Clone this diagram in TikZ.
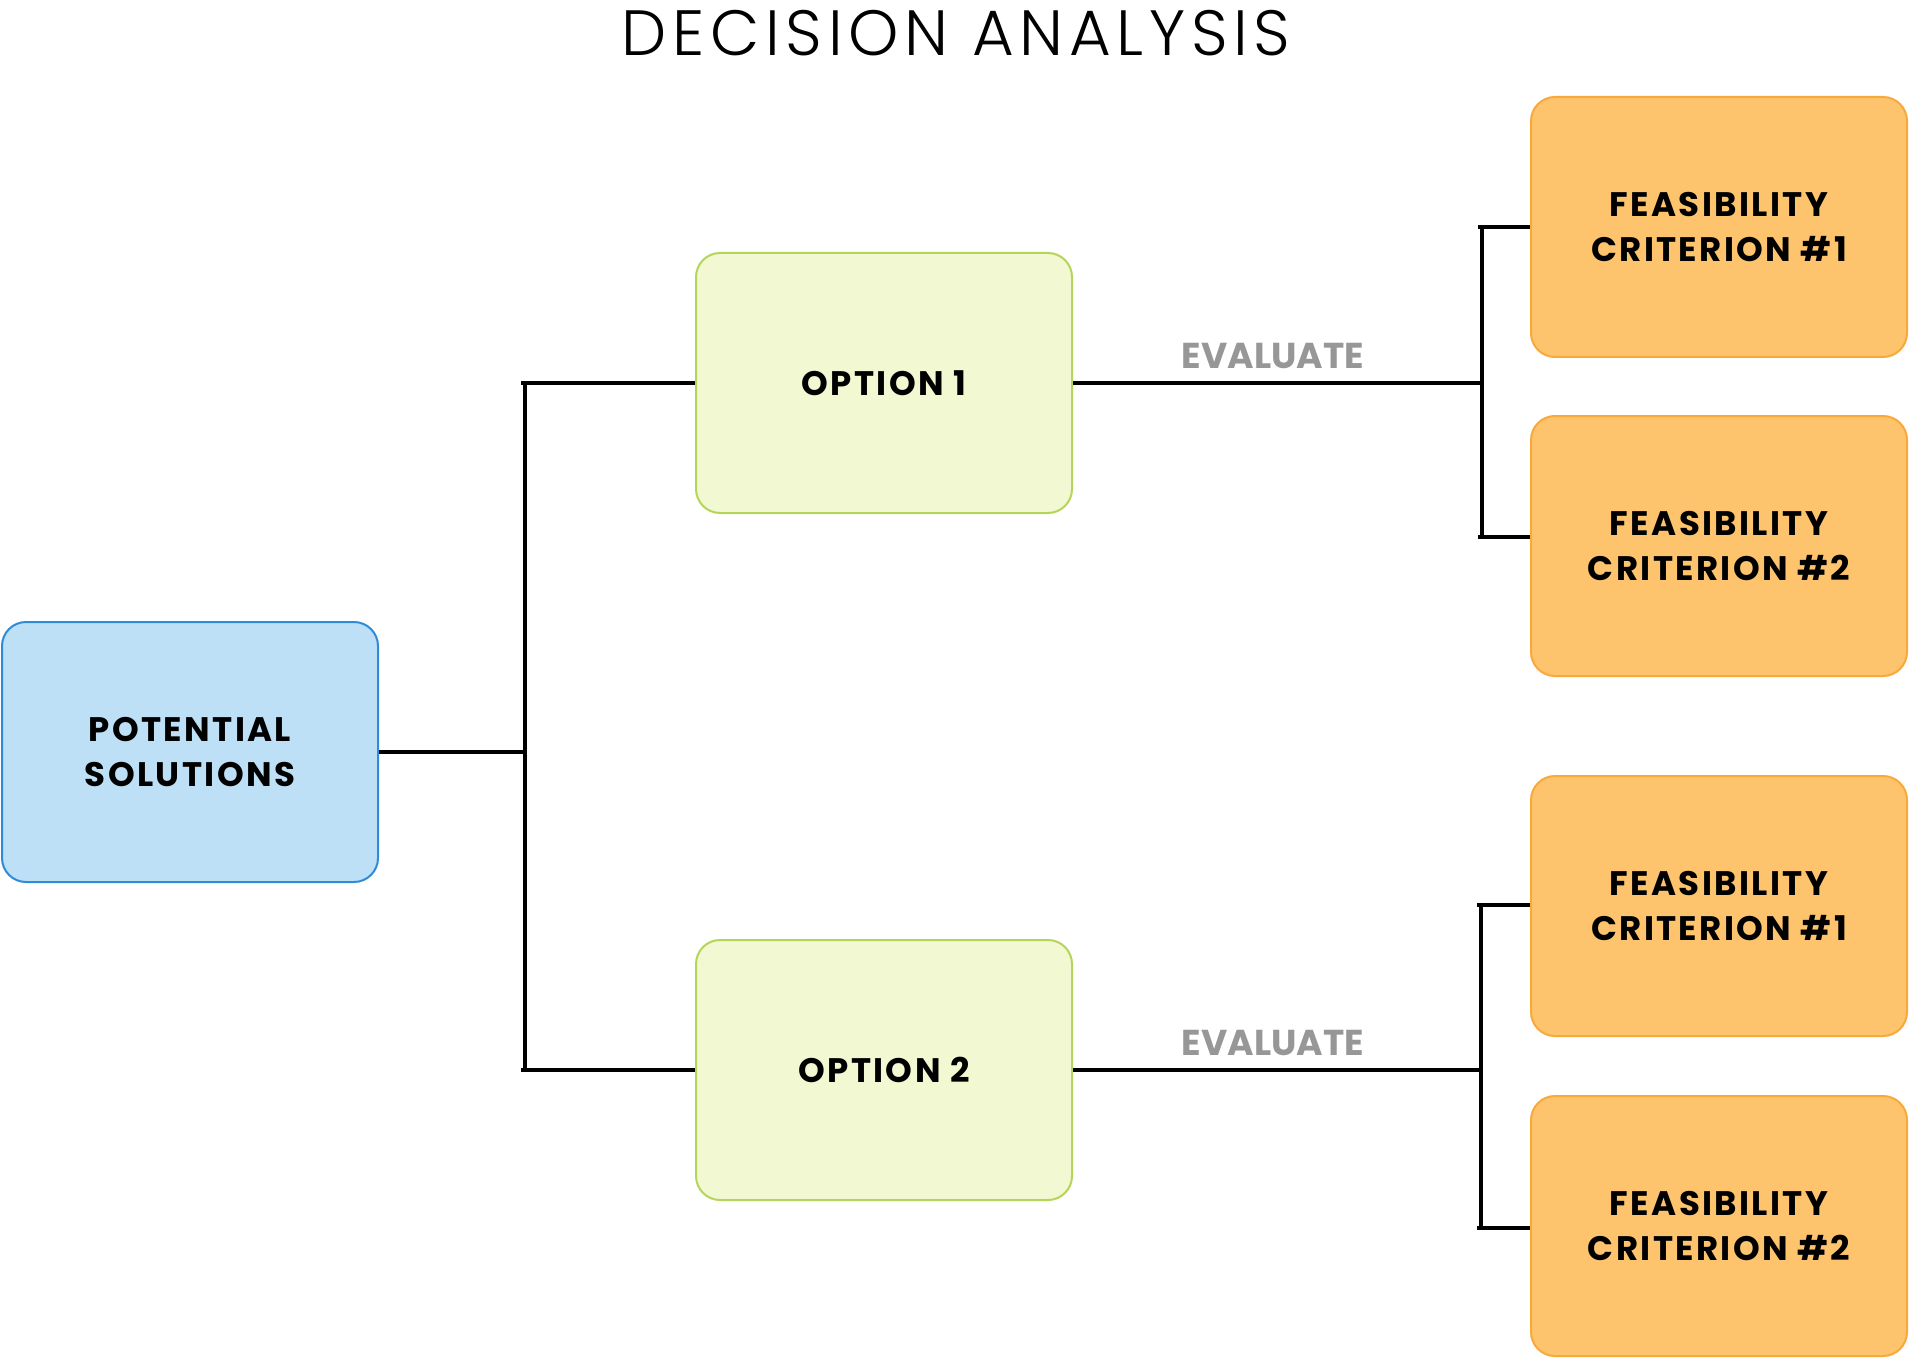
\documentclass[tikz,border=0pt]{standalone}
\usepackage{fontspec}
\setmainfont{Poppins}
\newfontfamily\titlefont{Poppins Light}[LetterSpace=9]
\newfontfamily\boxfont{Poppins}[LetterSpace=7]
\usepackage{tikz}
\usetikzlibrary{positioning}

\definecolor{solfill}{HTML}{BDE0F7}
\definecolor{soldraw}{HTML}{2E8BD8}
\definecolor{optfill}{HTML}{F1F8D2}
\definecolor{optdraw}{HTML}{B5D55A}
\definecolor{critfill}{HTML}{FDC46D}
\definecolor{critdraw}{HTML}{F9A83A}
\definecolor{evalgray}{HTML}{979797}

\begin{document}
\begin{tikzpicture}[x=0.5pt, y=-0.5pt,
    box/.style={draw, rounded corners=12pt, line width=1pt,
                minimum width=188pt, minimum height=130pt, align=center,
                font=\boxfont\bfseries\fontsize{17}{22.5}\selectfont},
    solbox/.style={box, fill=solfill, draw=soldraw},
    optbox/.style={box, fill=optfill, draw=optdraw},
    critbox/.style={box, fill=critfill, draw=critdraw},
    link/.style={line width=2.4pt},
    evallabel/.style={text=evalgray, font=\bfseries\fontsize{18}{20}\selectfont}]
                    \useasboundingbox (0,0) rectangle (1910,1358);
                    \node[font=\titlefont\fontsize{32}{36}\selectfont] (title) at (956,33) {DECISION ANALYSIS};
                    \node[solbox] (pot) at (190,752) {POTENTIAL\\SOLUTIONS};
                    \node[optbox] (opt1) at (884,383) {OPTION 1};
                    \node[optbox] (opt2) at (884,1070) {OPTION 2};
                    \node[critbox] (crit1a) at (1719,227) {FEASIBILITY\\CRITERION \#1};
                    \node[critbox] (crit2a) at (1719,546) {FEASIBILITY\\CRITERION \#2};
                    \node[critbox] (crit1b) at (1719,906) {FEASIBILITY\\CRITERION \#1};
                    \node[critbox] (crit2b) at (1719,1226) {FEASIBILITY\\CRITERION \#2};
                    \coordinate (split) at (525,752);
                    \coordinate (top1) at (1482,227);
                    \coordinate (bot1) at (1482,537);
                    \coordinate (top2) at (1481,905);
                    \coordinate (bot2) at (1481,1228);
                    \draw[link] (pot) -- (split);
                    \draw[link] (opt1.west -| split) -- (opt2.west -| split);
                    \draw[link] ([xshift=-2pt]opt1.west -| split) -- (opt1.west);
                    \draw[link] ([xshift=-2pt]opt2.west -| split) -- (opt2.west);
                    \draw[link] (opt1.east) -- (opt1.east -| top1);
                    \draw[link] (top1) -- (bot1);
                    \draw[link] ([xshift=-2pt]top1) -- (crit1a.west);
                    \draw[link] ([xshift=-2pt]bot1) -- (bot1 -| crit2a.west);
                    \draw[link] (opt2.east) -- (opt2.east -| top2);
                    \draw[link] (top2) -- (bot2);
                    \draw[link] ([xshift=-2pt]top2) -- (top2 -| crit1b.west);
                    \draw[link] ([xshift=-2pt]bot2) -- (bot2 -| crit2b.west);
                    \node[evallabel] (eval1) at (1273,356) {EVALUATE};
                    \node[evallabel] (eval2) at (1273,1043) {EVALUATE};
                \end{tikzpicture}
\end{document}
